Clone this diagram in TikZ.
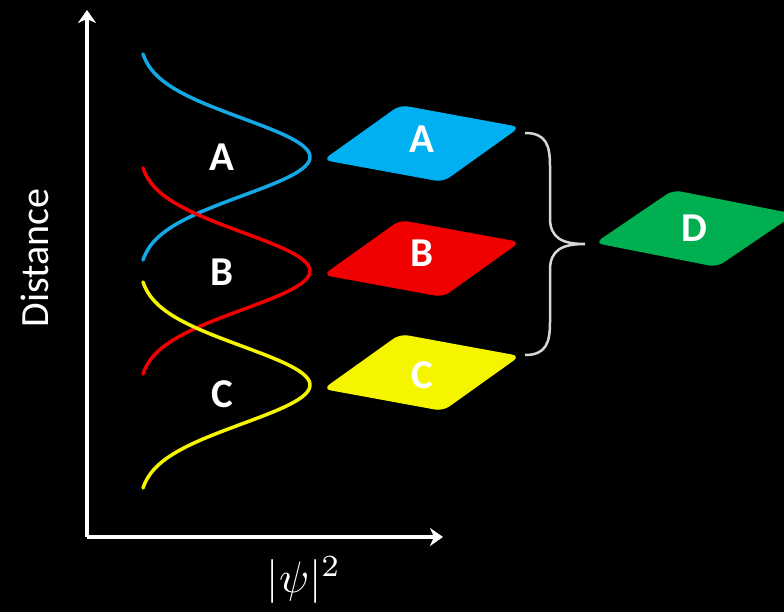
\documentclass[tikz,border=0pt]{standalone}
\usepackage{fontspec}
\usepackage{tikz}
\usetikzlibrary{arrows.meta, positioning, calc}
\newfontfamily\calibri{Carlito}
\definecolor{skyBlue}{RGB}{0, 176, 240}
\definecolor{waveBlue}{RGB}{20, 168, 228}
\definecolor{brightRed}{RGB}{240, 0, 0}
\definecolor{lemon}{RGB}{245, 245, 0}
\definecolor{leafGreen}{RGB}{0, 176, 80}
\definecolor{braceGray}{RGB}{215, 215, 215}

\begin{document}
\begin{tikzpicture}[
    x=1pt, y=-1pt,
    axis/.style={white, line width=4pt, -{Stealth[length=13pt, width=18pt, inset=4pt]}},
    wave/.style={line width=3.5pt, line cap=round},
    tile/.style={rounded corners=8pt},
    letter/.style={text=white, inner sep=0pt, font=\calibri\bfseries\fontsize{41}{41}\selectfont},
    title/.style={text=white, font=\calibri\fontsize{40}{40}\selectfont},
    brace/.style={braceGray, line width=2.5pt}
]
    % Background
    \useasboundingbox (0,0) rectangle (784,612);
    \fill[black] (0,0) rectangle (784,612);

    % Axes
    \coordinate (origin) at (87,537);
    \coordinate (ytip) at (87,10);
    \coordinate (xtip) at (443,537);
    \draw[axis] (origin) -- (ytip);
    \draw[axis] (origin) -- (xtip);
    \node[title, rotate=90] (ylabel) at (35,258) {Distance};
    \node[text=white] (xlabel) at (304,580) {\scalebox{4.4}{$|\psi|^2$}};

    % Probability densities
    \draw[wave, waveBlue] plot[domain=-103:103, samples=80] ({138+172*exp(-\x*\x/3000)}, {157+\x});
    \draw[wave, brightRed] plot[domain=-103:103, samples=80] ({138+172*exp(-\x*\x/3000)}, {271+\x});
    \draw[wave, lemon] plot[domain=-103:103, samples=80] ({138+172*exp(-\x*\x/3000)}, {385+\x});
    \node[letter] (waveA) at (222,157) {A};
    \node[letter] (waveB) at (222,272) {B};
    \node[letter] (waveC) at (222,394) {C};

    % Tiles
    \fill[tile, skyBlue] (323,160) -- ++(77,-55) -- ++(120,22) -- ++(-77,55) -- cycle;
    \fill[tile, brightRed] (323,275) -- ++(77,-55) -- ++(120,22) -- ++(-77,55) -- cycle;
    \fill[tile, lemon] (323,389) -- ++(77,-55) -- ++(120,22) -- ++(-77,55) -- cycle;
    \fill[tile, leafGreen] (595,243) -- ++(78,-53) -- ++(122,24) -- ++(-78,53) -- cycle;
    \node[letter] (tileA) at (422,139) {A};
    \node[letter] (tileB) at (422,253) {B};
    \node[letter] (tileC) at (422,375) {C};
    \node[letter] (tileD) at (694,228) {D};

    % Brace
    \coordinate (braceTop) at (525,133);
    \coordinate (braceTip) at (585,244);
    \coordinate (braceBot) at (525,355);
    \draw[brace] (braceTop) .. controls (546,133) and (550,145) .. (550,166) -- (550,218)
        .. controls (550,238) and (562,244) .. (braceTip)
        .. controls (562,244) and (550,250) .. (550,270) -- (550,322)
        .. controls (550,343) and (546,355) .. (braceBot);
\end{tikzpicture}
\end{document}
